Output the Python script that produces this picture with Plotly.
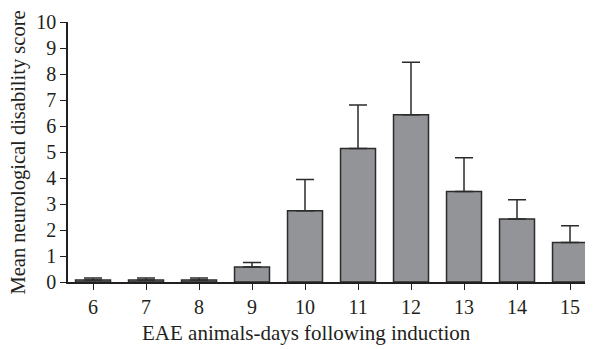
import plotly.graph_objects as go

days = [6, 7, 8, 9, 10, 11, 12, 13, 14, 15]
mean_score = [0.08, 0.08, 0.08, 0.58, 2.74, 5.13, 6.43, 3.48, 2.42, 1.52]
sem_upper = [0.07, 0.07, 0.07, 0.17, 1.2, 1.68, 2.02, 1.3, 0.74, 0.64]
y_ticks = list(range(0, 11))
x_title = "EAE animals-days following induction"
y_title = "Mean neurological disability score"

fig = go.Figure()
fig.add_trace(go.Bar(
    x=days, y=mean_score, width=0.66,
    marker=dict(color="#939498", line=dict(color="#2b2b2b", width=1.5)),
    error_y=dict(type="data", array=sem_upper, arrayminus=[0]*len(days),
                 symmetric=False, color="#2b2b2b", thickness=1.5, width=9),
))

fam = "Liberation Serif, Times New Roman, serif"
ink = "#231f20"
tickfont = dict(family=fam, size=20, color=ink)
fig.update_layout(
    width=585, height=341,
    margin=dict(l=60, r=1, t=14, b=67),
    paper_bgcolor="white", plot_bgcolor="white",
    font=dict(family=fam, size=20, color=ink), showlegend=False,
    xaxis=dict(range=[5.528, 15.415], tickmode="array", tickvals=days,
               ticktext=[str(d) for d in days], tickfont=tickfont,
               showline=True, linecolor=ink, linewidth=1.5,
               ticks="outside", ticklen=6, tickwidth=1.2, tickcolor=ink,
               showgrid=False, zeroline=False),
    yaxis=dict(range=[0, 10], tickmode="array", tickvals=y_ticks, tickfont=tickfont,
               showline=True, linecolor=ink, linewidth=1.5,
               ticks="outside", ticklen=6, tickwidth=1.2, tickcolor=ink,
               showgrid=False, zeroline=False),
    annotations=[
        dict(text=x_title, xref="paper", yref="paper", x=0.455, y=-0.196,
             xanchor="center", yanchor="middle", showarrow=False,
             font=dict(family=fam, size=21, color=ink)),
        dict(text=y_title, xref="paper", yref="paper", x=-0.0945, y=0.5,
             xanchor="center", yanchor="middle", textangle=-90, showarrow=False,
             font=dict(family=fam, size=20.5, color=ink)),
    ],
)
fig.write_html("out.html")
